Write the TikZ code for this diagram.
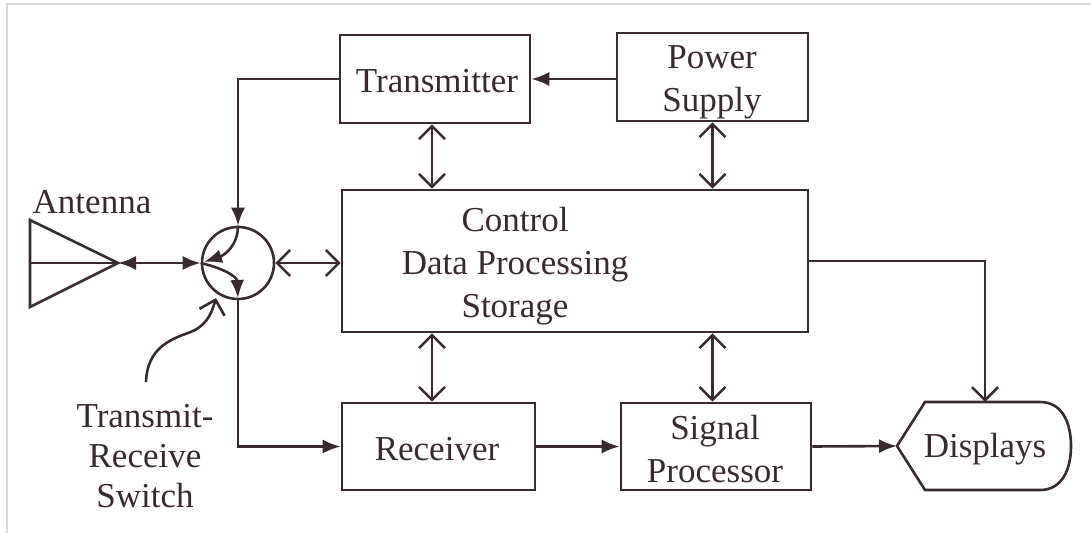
\documentclass[tikz,border=0pt]{standalone}
\usepackage{fontspec}
\setmainfont{Liberation Serif}
\usetikzlibrary{arrows.meta,calc}
\definecolor{ink}{HTML}{3A2A2D}
\definecolor{frame}{HTML}{D9D9D9}
\tikzset{
  blk/.style={draw=ink, line width=2.6pt, rectangle, inner sep=0pt},
  lbl/.style={align=center, text=ink, inner sep=0pt, font=\fontsize{35}{43}\selectfont},
  fa/.style={-{Latex[length=18pt,width=14pt]}},
  faboth/.style={{Latex[length=18pt,width=14pt]}-{Latex[length=18pt,width=14pt]}},
  oa/.style={-{Straight Barb[length=13pt,width=26pt,line width=2.6pt]}},
  oaboth/.style={{Straight Barb[length=13pt,width=26pt,line width=2.6pt]}-{Straight Barb[length=13pt,width=26pt,line width=2.6pt]}},
}
\begin{document}
\begin{tikzpicture}[x=1pt,y=-1pt,color=ink,line width=2.6pt]
\useasboundingbox (0,0) rectangle (1091,533);
% page frame
\draw[frame, line width=1.5pt] (7,533) -- (7,4) -- (1091,4);

% blocks and their labels
\node[blk, minimum width=190pt, minimum height=88pt] (tx) at (435,79) {};
\node[lbl] (txtxt) at (437,81) {Transmitter};
\node[blk, minimum width=191pt, minimum height=88pt] (pwr) at (712.5,77) {};
\node[lbl] (pwrtxt) at (712,82) {Power\\Supply};
\node[blk, minimum width=466pt, minimum height=142pt] (ctl) at (575,261) {};
\node[lbl] (ctltxt) at (515,266) {Control\\Data Processing\\Storage};
\node[blk, minimum width=193pt, minimum height=87pt] (rx) at (438.5,446.5) {};
\node[lbl] (rxtxt) at (437,449) {Receiver};
\node[blk, minimum width=190pt, minimum height=87pt] (sp) at (716,446.5) {};
\node[lbl] (sptxt) at (715,449) {Signal\\Processor};

% displays
\node[lbl] (disp) at (985,449) {Displays};
\coordinate (dleft) at (897,446);
\coordinate (dtop) at (985,402);
\draw (dleft) -- (925,402) -- (1040,402)
  .. controls (1063,402) and (1071,424) .. (1071,446)
  .. controls (1071,468) and (1063,490) .. (1040,490)
  -- (925,490) -- cycle;

% antenna
\node[lbl] (antlbl) at (92,202) {Antenna};
\coordinate (ant) at (118,263);
\draw (30,220) -- (ant) -- (30,307) -- cycle;
\draw (30,263) -- (ant);

% transmit-receive switch
\node[draw=ink, line width=2.6pt, circle, minimum size=72pt, inner sep=0pt] (sw) at (238,263) {};
\node[lbl, font=\fontsize{35}{40}\selectfont] (swlbl) at (145,456) {Transmit-\\Receive\\Switch};
\draw[fa] (sw.north) .. controls (238,245) and (225,255) .. (204,262);
\draw[fa] (sw.west) .. controls (222,268) and (237,276) .. (238,298);
\draw[oa] (146,382) .. controls (147,350) and (168,340) .. (188,333)
  .. controls (205,327) and (211,316) .. (216,298);

% connectors
\draw[fa] (pwr.west |- tx.east) -- (tx.east);
\draw[fa] (tx.west) -| (sw.north);
\draw[faboth] (ant) -- (sw.west);
\draw[oaboth] (sw.east) -- (sw.east -| ctl.west);
\draw[fa] (sw.south) |- (rx.west);
\draw[oaboth] ($(tx.south)+(-3,0)$) -- ($(tx.south |- ctl.north)+(-3,0)$);
\draw[oaboth] (pwr.south) -- (pwr.south |- ctl.north);
\draw[oaboth] ($(ctl.south -| tx.south)+(-3,0)$) -- ($(rx.north -| tx.south)+(-3,0)$);
\draw[oaboth] (ctl.south -| pwr.south) -- (sp.north -| pwr.south);
\draw[fa] (rx.east) -- (sp.west);
\draw[fa] (sp.east) -- (dleft);
\draw[oa] (ctl.east) -| (dtop);
\end{tikzpicture}
\end{document}
